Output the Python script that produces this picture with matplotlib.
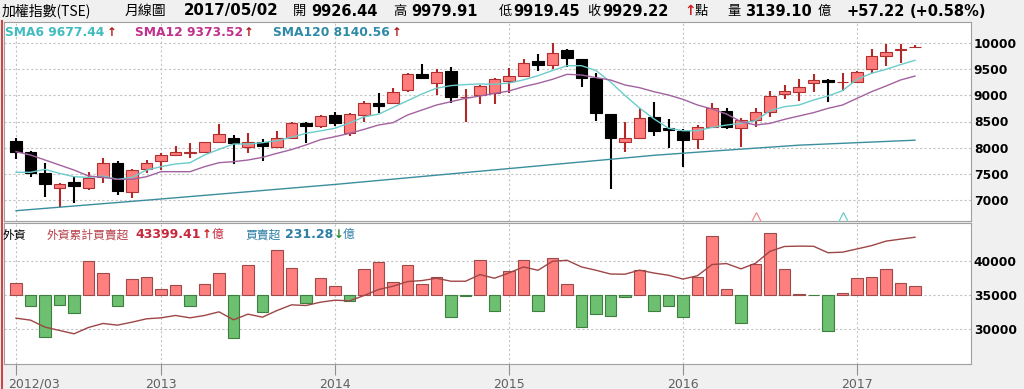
import numpy as np
import matplotlib
matplotlib.use("Agg")
import matplotlib.pyplot as plt
import matplotlib.transforms as mtransforms
from matplotlib.lines import Line2D

W, H = 1024, 389
CJK = ["Noto Sans CJK TC", "DejaVu Sans"]
NUM = ["DejaVu Sans"]

# x 軸: 2012/03 起算の月番号
tick_idx = [0, 10, 22, 34, 46, 58]
tick_lab = ["2012/03", "2013", "2014", "2015", "2016", "2017"]

# 月線 OHLC(2012/03 .. 2017/05)
opn = [8132, 7907, 7516, 7215, 7330, 7215, 7439, 7708, 7138, 7580, 7747, 7850, 7901, 7920, 8112,
       8176, 8003, 8112, 8003, 8189, 8478, 8420, 8625, 8285, 8625, 8849, 8849, 9105, 9407, 9234,
       9477, 8964, 9009, 9054, 9285, 9375, 9663, 9586, 9875, 9695, 9330, 8644, 8112, 8189, 8580,
       8368, 8323, 8157, 8387, 8708, 8368, 8529, 8689, 9022, 9061, 9234, 9298, 9253, 9266, 9503,
       9759, 9875, 9926.44]
high = [8176, 7933, 7696, 7324, 7439, 7535, 7792, 7740, 7587, 7760, 7888, 8029, 8080, 8100, 8446,
        8240, 8272, 8157, 8317, 8497, 8497, 8630, 8689, 8670, 8894, 9041, 9138, 9426, 9605, 9503,
        9541, 9118, 9202, 9343, 9522, 9702, 9791, 10016, 9887, 9695, 9426, 8644, 8497, 8766, 8881,
        8541, 8349, 8432, 8849, 8753, 8561, 8753, 9093, 9202, 9310, 9407, 9311, 9439, 9471, 9887,
        9990, 9990, 9979.91]
low = [7773, 7426, 7042, 6850, 6926, 7177, 7311, 7087, 7035, 7503, 7567, 7837, 7792, 7888, 8093,
       7676, 7888, 7747, 7990, 8176, 8093, 8375, 8413, 8221, 8497, 8670, 8830, 9073, 9330, 9010,
       8862, 8497, 8830, 8830, 9041, 9362, 9477, 9503, 9554, 9170, 8509, 7195, 7907, 8163, 8221,
       7984, 7618, 7965, 8368, 8349, 8003, 8387, 8580, 8926, 8894, 9073, 8881, 9086, 9246, 9426,
       9573, 9631, 9919.45]
close = [7920, 7503, 7292, 7292, 7266, 7407, 7708, 7164, 7568, 7696, 7850, 7907, 7914, 8100, 8253,
         8080, 8112, 8029, 8176, 8465, 8414, 8611, 8464, 8644, 8862, 8798, 9073, 9407, 9330, 9445,
         8964, 8977, 9182, 9311, 9375, 9631, 9586, 9823, 9714, 9330, 8670, 8176, 8189, 8561, 8323,
         8336, 8144, 8400, 8753, 8387, 8529, 8689, 8990, 9086, 9170, 9298, 9266, 9266, 9445, 9766,
         9830, 9894, 9929.22]

sma6 = [7523, 7523, 7580, 7503, 7439, 7426, 7452, 7388, 7426, 7567, 7631, 7683, 7708, 7856, 7965,
        8067, 8067, 8093, 8132, 8196, 8273, 8320, 8370, 8470, 8590, 8640, 8770, 8900, 9030, 9140,
        9190, 9210, 9221, 9214, 9240, 9300, 9380, 9480, 9573, 9573, 9480, 9260, 9000, 8760, 8550,
        8370, 8323, 8323, 8387, 8432, 8464, 8516, 8708, 8785, 8817, 8913, 8990, 9093, 9311, 9426,
        9503, 9593, 9677.44]
sma12 = [7920, 7856, 7760, 7663, 7567, 7452, 7426, 7388, 7388, 7439, 7535, 7535, 7535, 7631, 7708,
         7728, 7760, 7811, 7888, 7960, 8050, 8150, 8208, 8272, 8349, 8432, 8477, 8625, 8721, 8817,
         8881, 8945, 8990, 9041, 9086, 9170, 9234, 9311, 9407, 9394, 9343, 9298, 9202, 9150, 9073,
         9009, 8926, 8817, 8740, 8644, 8497, 8432, 8464, 8541, 8606, 8670, 8753, 8817, 8945, 9073,
         9182, 9298, 9373.52]
sma120_idx = [0, 10, 22, 34, 44, 48, 54, 62]
sma120 = [6785, 7010, 7290, 7595, 7850, 7930, 8045, 8140.56]

# 事件マーク(上段下端の小三角)
mark_idx = [51, 57]
mark_val = [6640, 6640]

# 外資 買賣超(億)と累計
net = [319, -310, -1126, -266, -488, 895, 577, -293, 426, 488, 160, 275, -310, 293, 577, -1170,
       807, -461, 1197, 718, -222, 461, 231, -168, 700, 878, 346, 807, 293, 470, -594, -20, 931,
       -434, 638, 940, -434, 984, 293, -851, -505, -567, -71, 656, -434, -293, -585, 488, 1587,
       142, -745, 816, 1649, 700, 27, -15, -957, 40, 443, 479, 683, 319, 231.28]
cum = [31608, 31318, 30300, 29816, 29331, 30252, 30833, 30591, 31027, 31512, 31657, 31996, 31657,
       31996, 32529, 31366, 32190, 31754, 32723, 33547, 33450, 33934, 34225, 34128, 34903, 35775,
       36260, 36938, 37083, 37423, 36986, 36986, 37955, 37423, 38200, 39070, 38585, 39893, 40039,
       39070, 38585, 38040, 38010, 38600, 38180, 37859, 37300, 37790, 39420, 39560, 38790, 39600,
       41350, 42050, 42100, 42080, 41140, 41220, 41690, 42171, 42830, 43120, 43399.41]

GRID = dict(color="#c4c4c4", linestyle=(0, (2, 2)), linewidth=0.8)
SPINE = "#a0a0a0"


def fx(x):
    return x / W


def fy(y):
    return 1 - y / H


fig = plt.figure(figsize=(W / 100, H / 100), dpi=100, facecolor="#f0f0f0")
x0, x1 = 4, 971
xlim = ((x0 - 16) / 14.5, (x1 - 16) / 14.5)

# ── 上段: K線 ──
ax1 = fig.add_axes([fx(x0), fy(221), fx(x1 - x0), 199 / H])
ax1.set_facecolor("white")
ax1.set_xlim(*xlim)
ax1.set_ylim(6587, 10413)
x = np.arange(len(close))
o = np.array(opn); c = np.array(close)
up = c >= o
body_lo = np.minimum(o, c)
body_h = np.maximum(np.abs(c - o), 6)
wick_col = np.where(up, "#b02828", "#000000")
ax1.vlines(x, low, high, colors=wick_col, lw=1.5, zorder=2)
ax1.bar(x[up], body_h[up], bottom=body_lo[up], width=0.78, color="#ff7c7c",
        edgecolor="#b03030", linewidth=0.8, zorder=3)
ax1.bar(x[~up], body_h[~up], bottom=body_lo[~up], width=0.78, color="#000000",
        edgecolor="#000000", linewidth=0.8, zorder=3)
ax1.plot(x, sma6, color="#6ccccc", lw=1.0, zorder=4)
ax1.plot(x, sma12, color="#a262a0", lw=1.0, zorder=4)
ax1.plot(sma120_idx, sma120, color="#3a8e9e", lw=1.0, zorder=4)
for xi, yv, col in zip(mark_idx, mark_val, ["#e89090", "#70cccc"]):
    ax1.plot([xi], [yv], marker="^", ms=8, mfc="none", mec=col, mew=0.9, zorder=4)

ax1.set_xticks(tick_idx)
ax1.tick_params(axis="x", length=0, labelbottom=False)
ax1.yaxis.tick_right()
ax1.set_yticks([7000, 7500, 8000, 8500, 9000, 9500, 10000])
ax1.tick_params(axis="y", length=0, pad=2, labelsize=8.8)
for t in ax1.get_yticklabels():
    t.set_fontweight("bold")
ax1.grid(True, **GRID)
ax1.set_axisbelow(True)
for s in ax1.spines.values():
    s.set_color(SPINE)

# ── 下段: 外資 ──
rect2 = [fx(x0), fy(364), fx(x1 - x0), 141 / H]
ax2 = fig.add_axes(rect2)
ax2.set_facecolor("white")
ax2.set_xlim(*xlim)
ax2.set_ylim(24930, 45470)
ax2.yaxis.tick_right()
ax2.set_yticks([30000, 35000, 40000])
ax2.tick_params(axis="y", length=0, pad=2, labelsize=8.8)
for t in ax2.get_yticklabels():
    t.set_fontweight("bold")
ax2.set_xticks(tick_idx)
ax2.set_xticklabels(tick_lab, color="#606060", fontsize=9)
ax2.tick_params(axis="x", length=8, color="#909090", pad=2)
first = ax2.get_xticklabels()[0]
first.set_ha("left")
first.set_transform(first.get_transform()
                    + mtransforms.ScaledTranslation(-8 / 100, 0, fig.dpi_scale_trans))
ax2.grid(True, **GRID)
for s in ax2.spines.values():
    s.set_color(SPINE)

axb = fig.add_axes(rect2, sharex=ax2)
axb.patch.set_visible(False)
axb.set_ylim(-1854, 1923)
axb.axis("off")
n = np.array(net)
pos = n >= 0
axb.bar(x[pos], n[pos], width=0.8, color="#ff7f7f", edgecolor="#9c4a4a", linewidth=0.8)
axb.bar(x[~pos], n[~pos], width=0.8, color="#6cc070", edgecolor="#3e7e3e", linewidth=0.8)

axl = fig.add_axes(rect2, sharex=ax2)
axl.patch.set_visible(False)
axl.set_ylim(ax2.get_ylim())
axl.axis("off")
axl.plot(x, cum, color="#9e4646", lw=1.0)

# 左の赤い縁
fig.add_artist(Line2D([fx(1.5), fx(1.5)], [0, fy(21)], color="#c84848", lw=1.5))


# ── 見出し ──
def txt(xp, yp, s, color="black", bold=False, size=11, fam=None):
    fig.text(fx(xp), fy(yp), s, color=color, fontsize=size, ha="left", va="center",
             fontweight="bold" if bold else "normal", family=fam or CJK)


hy = 11
txt(2, hy, "加權指數(TSE)", size=10)
txt(125, hy, "月線圖", size=10)
txt(184, hy, "2017/05/02", bold=True, size=10.8, fam=NUM)
for xp, lab in [(293, "開"), (393, "高"), (499, "低"), (587, "收"), (695, "點"), (727, "量"), (818, "億")]:
    txt(xp, hy, lab, size=9.5)
for xp, val in [(311, "9926.44"), (411, "9979.91"), (513, "9919.45"), (602, "9929.22"),
                (745, "3139.10"), (847, "+57.22"), (910, "(+0.58%)")]:
    txt(xp, hy, val, bold=True, size=10.5, fam=NUM)
txt(684, hy, "↑", color="#d02020", bold=True, size=10, fam=NUM)

ly = 32
for xp, s, col in [(5, "SMA6 9677.44", "#40bcc0"), (135, "SMA12 9373.52", "#c0308c"),
                   (273, "SMA120 8140.56", "#2e8aa8")]:
    txt(xp, ly, s, color=col, bold=True, size=8.8, fam=NUM)
for xp in [107, 244, 392]:
    txt(xp, ly, "↑", color="#b01818", bold=True, size=8.5, fam=NUM)

by = 235
txt(3, by, "外資", size=8.5)
txt(47, by, "外資累計買賣超", color="#b8404a", size=8.5)
txt(135, by, "43399.41", color="#c8283c", bold=True, size=9, fam=NUM)
txt(202, by, "↑", color="#c82020", bold=True, size=8.5, fam=NUM)
txt(212, by, "億", color="#c8283c", size=8.5)
txt(245, by, "買賣超", color="#2e7ea6", size=8.5)
txt(285, by, "231.28", color="#2e7ea6", bold=True, size=9, fam=NUM)
txt(334, by, "↓", color="#2a8a2a", bold=True, size=8.5, fam=NUM)
txt(343, by, "億", color="#2e7ea6", size=8.5)

fig.savefig("out.png", dpi=100, facecolor=fig.get_facecolor())
